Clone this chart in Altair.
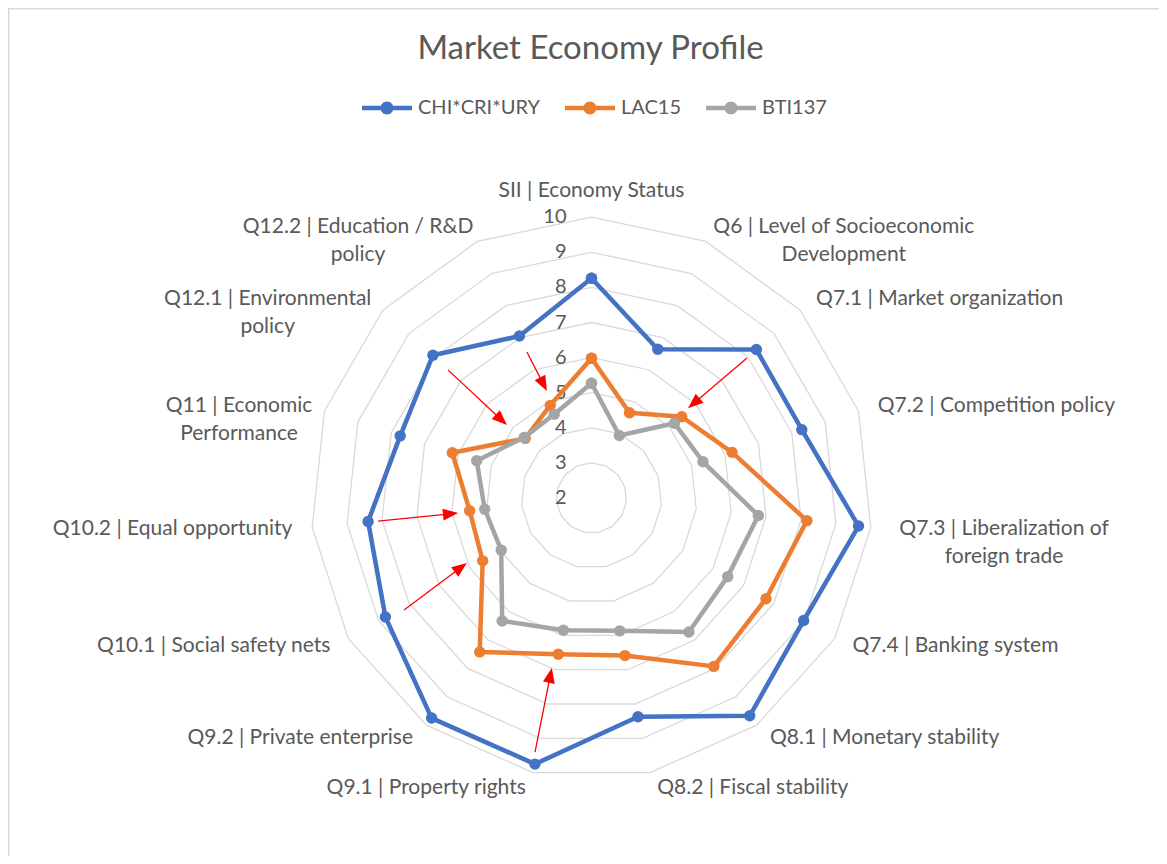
import math
import altair as alt
import pandas as pd

# ---------------- data ----------------
categories = [
    "SII | Economy Status",
    "Q6 | Level of Socioeconomic\nDevelopment",
    "Q7.1 | Market organization",
    "Q7.2 | Competition policy",
    "Q7.3 | Liberalization of\nforeign trade",
    "Q7.4 | Banking system",
    "Q8.1 | Monetary stability",
    "Q8.2 | Fiscal stability",
    "Q9.1 | Property rights",
    "Q9.2 | Private enterprise",
    "Q10.1 | Social safety nets",
    "Q10.2 | Equal opportunity",
    "Q11 | Economic\nPerformance",
    "Q12.1 | Environmental\npolicy",
    "Q12.2 | Education / R&D\npolicy",
]
series_names = ["CHI*CRI*URY", "LAC15", "BTI137"]
chi_cri_ury = [8.26, 6.64, 8.32, 8.30, 9.65, 8.98, 9.67, 8.37, 9.75, 9.75, 8.78, 8.40, 7.73, 8.08, 7.05]
lac15 = [5.98, 4.66, 5.46, 6.21, 8.17, 7.74, 7.93, 6.59, 6.55, 7.42, 5.58, 5.49, 6.17, 4.54, 4.89]
bti137 = [5.27, 3.95, 5.18, 5.34, 6.78, 6.48, 6.72, 5.87, 5.85, 6.33, 4.97, 5.06, 5.44, 4.58, 4.61]
series_colors = ["#4472C4", "#ED7D31", "#A5A5A5"]
axis_min, axis_max = 2, 10
tick_values = [2, 3, 4, 5, 6, 7, 8, 9, 10]
ring_values = [3, 4, 5, 6, 7, 8, 9, 10]

# red annotation arrows (tail -> head) in the radar's value units (x right, y up)
arrow_x0 = [-1.84, -4.09, 4.43, -6.08, -5.34, -1.61]
arrow_y0 = [4.16, 3.65, 3.99, -0.66, -3.19, -7.24]
arrow_x1 = [-1.27, -2.41, 2.75, -3.80, -3.55, -1.13]
arrow_y1 = [3.05, 2.08, 2.56, -0.43, -1.85, -4.84]

# ---------------- layout ----------------
W, H_TOTAL, PAD_TOP = 1151, 848, 60
H = H_TOTAL - PAD_TOP
PX = 35.1              # pixels per value unit
CX, CY = 583.5, 430.0  # radar centre inside the plot area
FONT = "Lato"
TXT = "#595959"
LAB_FS = 21
CHAR_W = 0.45          # rough average glyph width (em) used to centre wrapped labels

n = len(categories)
step = 360.0 / n


def polar(i, r):
    a = math.radians(i * step)
    return r * math.sin(a), r * math.cos(a)


xdom = [-CX / PX, (W - CX) / PX]
ydom = [-(H - CY) / PX, CY / PX]
XS = alt.Scale(domain=xdom, nice=False, zero=False)
YS = alt.Scale(domain=ydom, nice=False, zero=False)
X = alt.X("x:Q", scale=XS, axis=None)
Y = alt.Y("y:Q", scale=YS, axis=None)

# rings
ring_rows = []
for v in ring_values:
    for k in range(n + 1):
        x, y = polar(k % n, v - axis_min)
        ring_rows.append({"ring": v, "idx": k, "x": x, "y": y})
ring_df = pd.DataFrame(ring_rows)

# series
ser_rows = []
for s, vals in zip(series_names, [chi_cri_ury, lac15, bti137]):
    for k in range(n + 1):
        i = k % n
        x, y = polar(i, vals[i] - axis_min)
        ser_rows.append({"series": s, "idx": k, "x": x, "y": y, "value": vals[i]})
ser_df = pd.DataFrame(ser_rows)

# tick labels
tick_df = pd.DataFrame({"x": [0.0] * len(tick_values),
                        "y": [v - axis_min for v in tick_values],
                        "label": [str(v) for v in tick_values]})

# category labels
lab_rows = []
R_LAB = (axis_max - axis_min) + 16 / PX
for i, c in enumerate(categories):
    x, y = polar(i, R_LAB)
    s = math.sin(math.radians(i * step))
    lines = c.split("\n")
    if abs(s) < 0.2:
        grp = "top"
    else:
        sign = 1 if s > 0 else -1
        x += sign * 4 / PX
        if len(lines) > 1:
            w = max(len(t) for t in lines) * CHAR_W * LAB_FS / PX
            x += sign * w / 2
            grp = "wrap"
        else:
            grp = "left" if sign > 0 else "right"
    lab_rows.append({"x": x, "y": y, "label": c, "grp": grp})
lab_df = pd.DataFrame(lab_rows)

# arrows
HEAD = 8.0  # px from head centre to tip
arr_rows = []
for x0, y0, x1, y1 in zip(arrow_x0, arrow_y0, arrow_x1, arrow_y1):
    dx, dy = x1 - x0, y1 - y0
    L = math.hypot(dx, dy)
    ux, uy = dx / L, dy / L
    cxh, cyh = x1 - ux * HEAD / PX, y1 - uy * HEAD / PX
    ang = math.degrees(math.atan2(dx, dy)) % 360
    arr_rows.append({"x": x0, "y": y0, "x2": cxh, "y2": cyh, "hx": cxh, "hy": cyh, "ang": ang})
arr_df = pd.DataFrame(arr_rows)

# chart frame lines (top and left edges, like the Excel chart border)
frame_df = pd.DataFrame({
    "x": [xdom[0], xdom[0] + 0.75 / PX],
    "y": [ydom[1] + (PAD_TOP - 0.75) / PX, ydom[1] + PAD_TOP / PX],
    "x2": [xdom[1], xdom[0] + 0.75 / PX],
    "y2": [ydom[1] + (PAD_TOP - 0.75) / PX, ydom[0]],
})

base = alt.Chart(ser_df)

frame = alt.Chart(frame_df).mark_rule(color="#D9D9D9", strokeWidth=1.5).encode(
    x=X, y=Y, x2="x2:Q", y2="y2:Q")

rings = alt.Chart(ring_df).mark_line(color="#D9D9D9", strokeWidth=1.3).encode(
    x=X, y=Y, detail="ring:N", order="idx:Q")

ticks = alt.Chart(tick_df).mark_text(
    align="right", baseline="middle", dx=-25, fontSize=20, font=FONT, color=TXT
).encode(x=X, y=Y, text="label:N")

LEG_PATH = ("M-1,-0.09H1V0.09H-1Z"
            "M0.26,0A0.26,0.26,0,1,1,-0.26,0A0.26,0.26,0,1,1,0.26,0Z")

layers = [frame, rings, ticks]
for si, s in enumerate(series_names):
    sub = base.transform_filter(alt.datum.series == s)
    line = sub.mark_line(color=series_colors[si], strokeWidth=4.5,
                         strokeJoin="round", strokeCap="round").encode(
        x=X, y=Y, order="idx:Q")
    if si == 0:
        pts = sub.mark_point(filled=True, size=130, opacity=1).encode(
            x=X, y=Y,
            color=alt.Color(
                "series:N",
                scale=alt.Scale(domain=series_names, range=series_colors),
                legend=alt.Legend(
                    orient="none", legendX=354, legendY=15, direction="horizontal",
                    title=None, symbolType=LEG_PATH, symbolSize=2500,
                    symbolStrokeWidth=0, symbolOpacity=1,
                    labelFont=FONT, labelFontSize=20, labelColor=TXT,
                    labelOffset=6, columnPadding=25, padding=0,
                ),
            ),
        )
    else:
        pts = sub.mark_point(filled=True, size=130, opacity=1,
                             color=series_colors[si]).encode(x=X, y=Y)
    layers += [line, pts]

arrow_lines = alt.Chart(arr_df).mark_rule(color="#FF0000", strokeWidth=1.3).encode(
    x=X, y=Y, x2="x2:Q", y2="y2:Q")
arrow_heads = alt.Chart(arr_df).mark_point(
    shape="M0,-1L0.75,0.9L-0.75,0.9Z", filled=True, size=256, color="#FF0000", opacity=1
).encode(x=alt.X("hx:Q", scale=XS, axis=None),
         y=alt.Y("hy:Q", scale=YS, axis=None),
         angle=alt.Angle("ang:Q", scale=None))
layers += [arrow_lines, arrow_heads]

lab_base = alt.Chart(lab_df)
for grp, align, baseline in [("left", "left", "middle"), ("right", "right", "middle"),
                             ("wrap", "center", "middle"), ("top", "center", "bottom")]:
    layers.append(
        lab_base.transform_filter(alt.datum.grp == grp).mark_text(
            align=align, baseline=baseline, fontSize=LAB_FS, font=FONT, color=TXT,
            lineBreak="\n", lineHeight=28
        ).encode(x=X, y=Y, text="label:N")
    )

chart = alt.layer(*layers).properties(
    width=W, height=H,
    padding={"left": 0, "top": PAD_TOP, "right": 0, "bottom": 0},
    autosize=alt.AutoSizeParams(type="none"),
    title=alt.Title("Market Economy Profile", fontSize=33, font=FONT, color=TXT,
                    fontWeight="normal", anchor="middle", offset=-59, dx=7),
).configure_view(stroke=None)

chart.save("out.html", embed_options={"renderer": "svg", "actions": False})
